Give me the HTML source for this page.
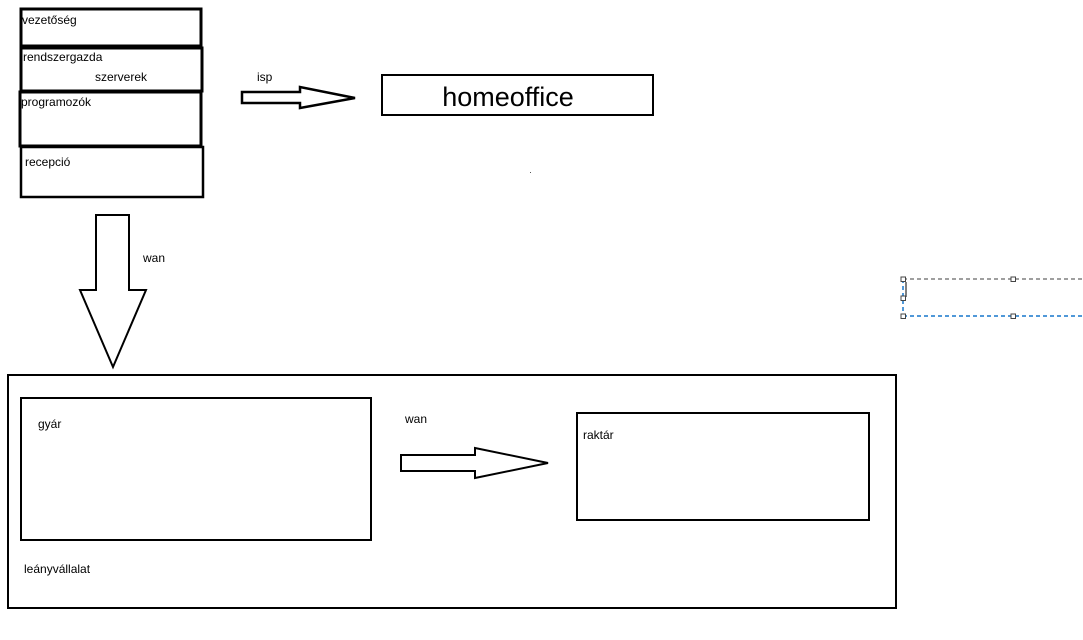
<!DOCTYPE html>
<html><head><meta charset="utf-8"><style>
html,body{margin:0;padding:0;background:#fff;width:1083px;height:640px;overflow:hidden}
svg text{font-family:"Liberation Sans",sans-serif;fill:#000}
</style></head><body>
<svg width="1083" height="640" viewBox="0 0 1083 640">
<g fill="none" stroke="#000">
<rect x="21" y="9" width="180" height="37" stroke-width="3"/>
<rect x="21" y="48" width="181" height="43" stroke-width="3"/>
<rect x="20" y="92" width="181" height="54" stroke-width="3"/>
<rect x="21" y="147" width="182" height="50" stroke-width="2.5"/>
<polygon points="242,92 300,92 300,87 355,98 300,108 300,103 242,103" stroke-width="2.5"/>
<rect x="382" y="75" width="271" height="40" stroke-width="2"/>
<polygon points="96,215 129,215 129,290 146,290 113,367 80,290 96,290" stroke-width="2"/>
<rect x="8" y="375" width="888" height="233" stroke-width="2"/>
<rect x="21" y="398" width="350" height="142" stroke-width="2"/>
<rect x="577" y="413" width="292" height="107" stroke-width="2"/>
<polygon points="401,455 475,455 475,448 548,463 475,478 475,471 401,471" stroke-width="2"/>
</g>
<line x1="22" y1="46" x2="123" y2="46" stroke="#000" stroke-width="2"/>
<text x="22" y="24" font-size="12">vezetőség</text>
<text x="23" y="61" font-size="12">rendszergazda</text>
<text x="95" y="81" font-size="12">szerverek</text>
<text x="21" y="106" font-size="12">programozók</text>
<text x="25" y="166" font-size="12">recepció</text>
<text x="257" y="81" font-size="12">isp</text>
<text x="508" y="106" font-size="27" text-anchor="middle">homeoffice</text>
<text x="143" y="262" font-size="12">wan</text>
<text x="38" y="428" font-size="12">gyár</text>
<text x="405" y="423" font-size="12">wan</text>
<text x="583" y="439" font-size="12">raktár</text>
<text x="24" y="573" font-size="12">leányvállalat</text>
<rect x="530" y="172" width="1" height="1" fill="#555"/>
<g>
<line x1="903" y1="279" x2="1083" y2="279" stroke="#666" stroke-dasharray="4,3" stroke-width="1.2"/>
<line x1="903" y1="316" x2="1083" y2="316" stroke="#1777cc" stroke-dasharray="4,3" stroke-width="1.5"/>
<line x1="903" y1="279" x2="903" y2="316" stroke="#1777cc" stroke-dasharray="4,3" stroke-width="1.5"/>
<line x1="906" y1="282" x2="906" y2="297" stroke="#000" stroke-width="1"/>
<g fill="#fff" stroke="#444" stroke-width="1">
<rect x="901" y="277" width="4.5" height="4.5"/><rect x="1011" y="277" width="4.5" height="4.5"/>
<rect x="901" y="296" width="4.5" height="4.5"/>
<rect x="901" y="314" width="4.5" height="4.5"/><rect x="1011" y="314" width="4.5" height="4.5"/>
</g></g>
</svg>
</body></html>
